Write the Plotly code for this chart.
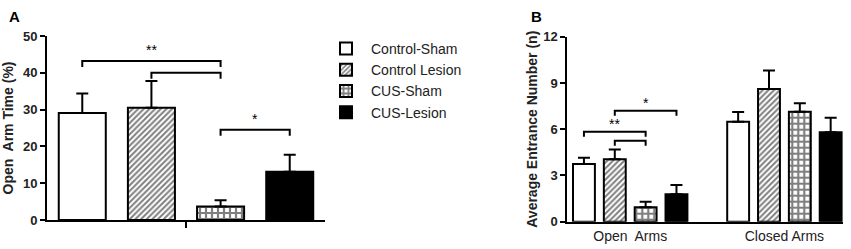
import plotly.graph_objects as go

# ---------------- data ----------------
groups = ["Control-Sham", "Control Lesion", "CUS-Sham", "CUS-Lesion"]
open_time = [29.1, 30.5, 3.7, 13.1]
open_time_err = [5.3, 7.3, 1.7, 4.6]

arm_labels = ["Open\u00a0 Arms", "Closed Arms"]
open_entries = [3.74, 4.05, 0.93, 1.78]
open_entries_err = [0.41, 0.64, 0.37, 0.60]
closed_entries = [6.49, 8.60, 7.13, 5.80]
closed_entries_err = [0.62, 1.20, 0.55, 0.95]

# significance brackets: (from group, to group, level, label)
brackets_a = [(0, 2, 43.2, "**"), (1, 2, 40.0, None), (2, 3, 24.5, "*")]
brackets_b = [(0, 2, 5.84, "**"), (1, 2, 5.25, None), (1, 3, 7.2, "*")]

# ---------------- styles ----------------
FONT = "Arial, 'Liberation Sans', sans-serif"
patterns = [
    dict(shape=""),
    dict(shape="/", fgcolor="black", bgcolor="white", size=4, solidity=0.5),
    dict(shape="+", fgcolor="black", bgcolor="white", size=6, solidity=0.6),
    dict(shape=""),
]
fills = ["white", "white", "white", "black"]

fig = go.Figure()

xa = [1, 2, 3, 4]
xb_open = [1, 2, 3, 4]
xb_closed = [6, 7, 8, 9]

for k, g in enumerate(groups):
    fig.add_trace(go.Bar(
        x=[xa[k]], y=[open_time[k]], name=g, width=0.68,
        marker=dict(color=fills[k], line=dict(color="black", width=2), pattern=patterns[k]),
        error_y=dict(type="data", symmetric=False, array=[open_time_err[k]], arrayminus=[0],
                     color="black", thickness=2, width=6),
        xaxis="x", yaxis="y", legendgroup=g, showlegend=True,
    ))
    fig.add_trace(go.Bar(
        x=[xb_open[k], xb_closed[k]], y=[open_entries[k], closed_entries[k]], name=g, width=0.71,
        marker=dict(color=fills[k], line=dict(color="black", width=2), pattern=patterns[k]),
        error_y=dict(type="data", symmetric=False,
                     array=[open_entries_err[k], closed_entries_err[k]], arrayminus=[0, 0],
                     color="black", thickness=2, width=6),
        xaxis="x2", yaxis="y2", legendgroup=g, showlegend=False,
    ))


def add_brackets(brs, xs, drop, star_off, xref, yref):
    for a, b, lvl, lab in brs:
        x1, x2 = xs[a], xs[b]
        fig.add_shape(type="path",
                      path=f"M {x1},{lvl - drop} L {x1},{lvl} L {x2},{lvl} L {x2},{lvl - drop}",
                      xref=xref, yref=yref, line=dict(color="black", width=2))
        if lab:
            fig.add_annotation(x=(x1 + x2) / 2, y=lvl + star_off,
                               xref=xref, yref=yref, text=lab, showarrow=False,
                               font=dict(family=FONT, size=14, color="black"),
                               xanchor="center", yanchor="middle")


add_brackets(brackets_a, xa, 1.6, 2.9, "x", "y")
add_brackets(brackets_b, xb_open, 0.33, 0.5, "x2", "y2")

axis_common = dict(showline=True, linecolor="black", linewidth=2, showgrid=False, zeroline=False,
                   mirror=False, automargin=False)

fig.update_layout(
    width=851, height=249,
    margin=dict(l=0, r=0, t=0, b=0, pad=0),
    paper_bgcolor="white", plot_bgcolor="white",
    barmode="overlay",
    font=dict(family=FONT, color="black"),
    xaxis=dict(domain=[47 / 851, 325 / 851], range=[0.49, 4.51], anchor="y",
               tickvals=[2.5], ticktext=[""], ticks="outside", ticklen=6, tickwidth=2,
               tickcolor="black", **axis_common),
    yaxis=dict(domain=[1 - 220 / 249, 1 - 36 / 249], range=[0, 50], anchor="x",
               tickvals=[0, 10, 20, 30, 40, 50], ticks="outside", ticklen=5, tickwidth=2,
               tickcolor="black",
               tickfont=dict(family=FONT, size=13, color="#222", weight="bold"),
               title=dict(text="Open\u00a0 Arm Time (%)", standoff=6,
                          font=dict(family=FONT, size=14, color="#222", weight="bold")),
               **axis_common),
    xaxis2=dict(domain=[567.3 / 851, 843 / 851], range=[0.46, 9.4], anchor="y2",
                tickvals=[2.5, 7.5], ticktext=arm_labels, ticks="",
                tickfont=dict(family=FONT, size=14, color="#222"),
                **axis_common),
    yaxis2=dict(domain=[1 - 221.7 / 249, 1 - 36.7 / 249], range=[0, 12], anchor="x2",
                tickvals=[0, 3, 6, 9, 12], ticks="outside", ticklen=5, tickwidth=2,
                tickcolor="black",
                tickfont=dict(family=FONT, size=13, color="#222", weight="bold"),
                title=dict(text="Average Entrance Number (n)", standoff=2,
                           font=dict(family=FONT, size=14, color="#222", weight="bold")),
                **axis_common),
    legend=dict(x=321 / 851, y=1 - 33 / 249, xanchor="left", yanchor="top",
                font=dict(family=FONT, size=14, color="#222"), bgcolor="rgba(0,0,0,0)",
                tracegroupgap=0, itemwidth=40),
    showlegend=True,
    annotations=list(fig.layout.annotations) + [
        dict(x=7 / 851, y=1 - 6 / 249, xref="paper", yref="paper", text="<b>A</b>",
             showarrow=False, xanchor="left", yanchor="top",
             font=dict(family=FONT, size=15, color="black")),
        dict(x=529 / 851, y=1 - 6 / 249, xref="paper", yref="paper", text="<b>B</b>",
             showarrow=False, xanchor="left", yanchor="top",
             font=dict(family=FONT, size=15, color="black")),
    ],
)

fig.write_html("out.html", config={"displayModeBar": False},
               post_script="document.body.style.margin='0';")
